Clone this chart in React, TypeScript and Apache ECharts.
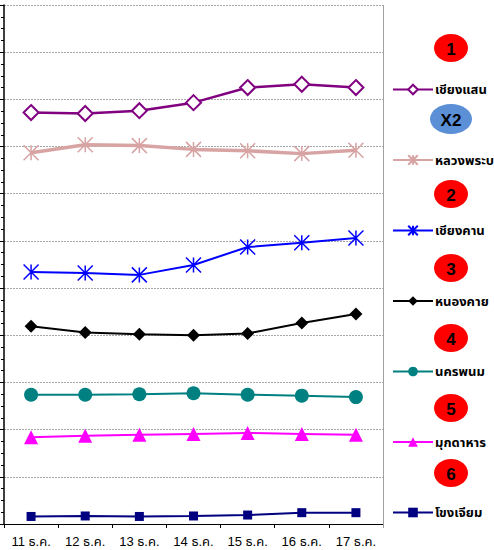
import React, { useEffect, useRef } from "react";
import * as echarts from "echarts";

const categories = ["11 ธ.ค.", "12 ธ.ค.", "13 ธ.ค.", "14 ธ.ค.", "15 ธ.ค.", "16 ธ.ค.", "17 ธ.ค."];
const chiangSaen = [8.72, 8.7, 8.76, 8.93, 9.25, 9.32, 9.25];
const luangPrabang = [7.87, 8.04, 8.02, 7.94, 7.91, 7.85, 7.92];
const chiangKhan = [5.34, 5.32, 5.28, 5.49, 5.87, 5.96, 6.06];
const nongKhai = [4.19, 4.06, 4.02, 4.0, 4.04, 4.26, 4.45];
const nakhonPhanom = [2.74, 2.74, 2.75, 2.77, 2.74, 2.72, 2.69];
const mukdahan = [1.84, 1.87, 1.89, 1.91, 1.93, 1.91, 1.89];
const khongChiam = [0.16, 0.17, 0.16, 0.17, 0.19, 0.24, 0.24];
const badgeLabels = ["1", "X2", "2", "3", "4", "5", "6"];

const STAR = "path://M0,0 L10,10 M10,0 L0,10 M5,0 L5,10";

export default function App() {
  const ref = useRef<HTMLDivElement>(null);
  useEffect(() => {
    const chart = echarts.init(ref.current!, null, { renderer: "svg" });
    const font = "Arial, 'Liberation Sans', 'Noto Sans Thai', Tahoma, sans-serif";
    const mk = (name: string, data: number[], color: string, symbol: string, size: number, width: number, extra: any = {}) => ({
      name,
      type: "line",
      data,
      symbol,
      symbolSize: size,
      lineStyle: { color, width },
      itemStyle: { color, ...(extra.itemStyle || {}) },
      z: extra.z || 2,
    });
    const badgeY = [48, 119, 194, 268, 338, 408, 473];
    const graphics: any[] = [];
    badgeLabels.forEach((t, i) => {
      const isX = t === "X2";
      graphics.push({
        type: "ellipse",
        shape: { cx: 451, cy: badgeY[i], rx: isX ? 21 : 17, ry: isX ? 15 : 14 },
        style: { fill: isX ? "#5b8fd6" : "#ff0000" },
        z: 10,
      });
      graphics.push({
        type: "text",
        x: 451,
        y: badgeY[i] + 1,
        style: { text: t, fill: "#000", font: "bold 17px Arial, 'Liberation Sans', sans-serif", textAlign: "center", textVerticalAlign: "middle" },
        z: 11,
      });
    });
    graphics.push({
      type: "line",
      shape: { x1: 383.5, y1: 5, x2: 383.5, y2: 528 },
      style: { stroke: "#a0a0a0", lineWidth: 1 },
      z: 5,
    });
    chart.setOption({
      animation: false,
      grid: { left: 4, top: 5, right: 111, bottom: 26, containLabel: false },
      legend: {
        orient: "vertical",
        left: 387,
        top: 78,
        itemWidth: 40,
        itemHeight: 12,
        itemGap: 57.5,
        selectedMode: false,
        textStyle: { fontSize: 13, fontWeight: "bold", color: "#000", fontFamily: font, padding: [0, 0, 0, -3] },
        data: ["เชียงแสน", "หลวงพระบาง", "เชียงคาน", "หนองคาย", "นครพนม", "มุกดาหาร", "โขงเจียม"],
      },
      xAxis: {
        type: "category",
        data: categories,
        boundaryGap: true,
        axisLine: { lineStyle: { color: "#000", width: 1 } },
        axisTick: { show: true, length: 4, lineStyle: { color: "#000" } },
        axisLabel: { color: "#000", fontSize: 13, margin: 11, fontFamily: font },
        splitLine: { show: false },
      },
      yAxis: {
        type: "value",
        min: 0,
        max: 11,
        interval: 1,
        axisLine: { show: true, lineStyle: { color: "#000", width: 1.5 } },
        axisTick: { show: true, length: 5, lineStyle: { color: "#000" } },
        minorTick: { show: true, splitNumber: 4, length: 3, lineStyle: { color: "#000" } },
        axisLabel: { show: false },
        splitLine: { show: true, lineStyle: { color: "#a8a8a8", type: [2, 1], width: 1 } },
      },
      series: [
        mk("เชียงแสน", chiangSaen, "#800080", "diamond", 15, 2.5, { itemStyle: { color: "#fff", borderColor: "#800080", borderWidth: 2 } }),
        mk("หลวงพระบาง", luangPrabang, "#d8a3a3", STAR, 15, 3.5, { itemStyle: { color: "#d8a3a3", borderColor: "#d8a3a3", borderWidth: 1.5 } }),
        mk("เชียงคาน", chiangKhan, "#0000ff", STAR, 15, 2, { itemStyle: { color: "#0000ff", borderColor: "#0000ff", borderWidth: 1.5 } }),
        mk("หนองคาย", nongKhai, "#000000", "diamond", 13, 2),
        mk("นครพนม", nakhonPhanom, "#008080", "circle", 14, 2),
        mk("มุกดาหาร", mukdahan, "#ff00ff", "triangle", 14, 2),
        mk("โขงเจียม", khongChiam, "#000080", "rect", 9, 2),
      ],
      graphic: graphics,
    });
    return () => chart.dispose();
  }, []);
  return <div ref={ref} style={{ position: "absolute", left: 0, top: 0, width: 494, height: 550 }} />;
}
